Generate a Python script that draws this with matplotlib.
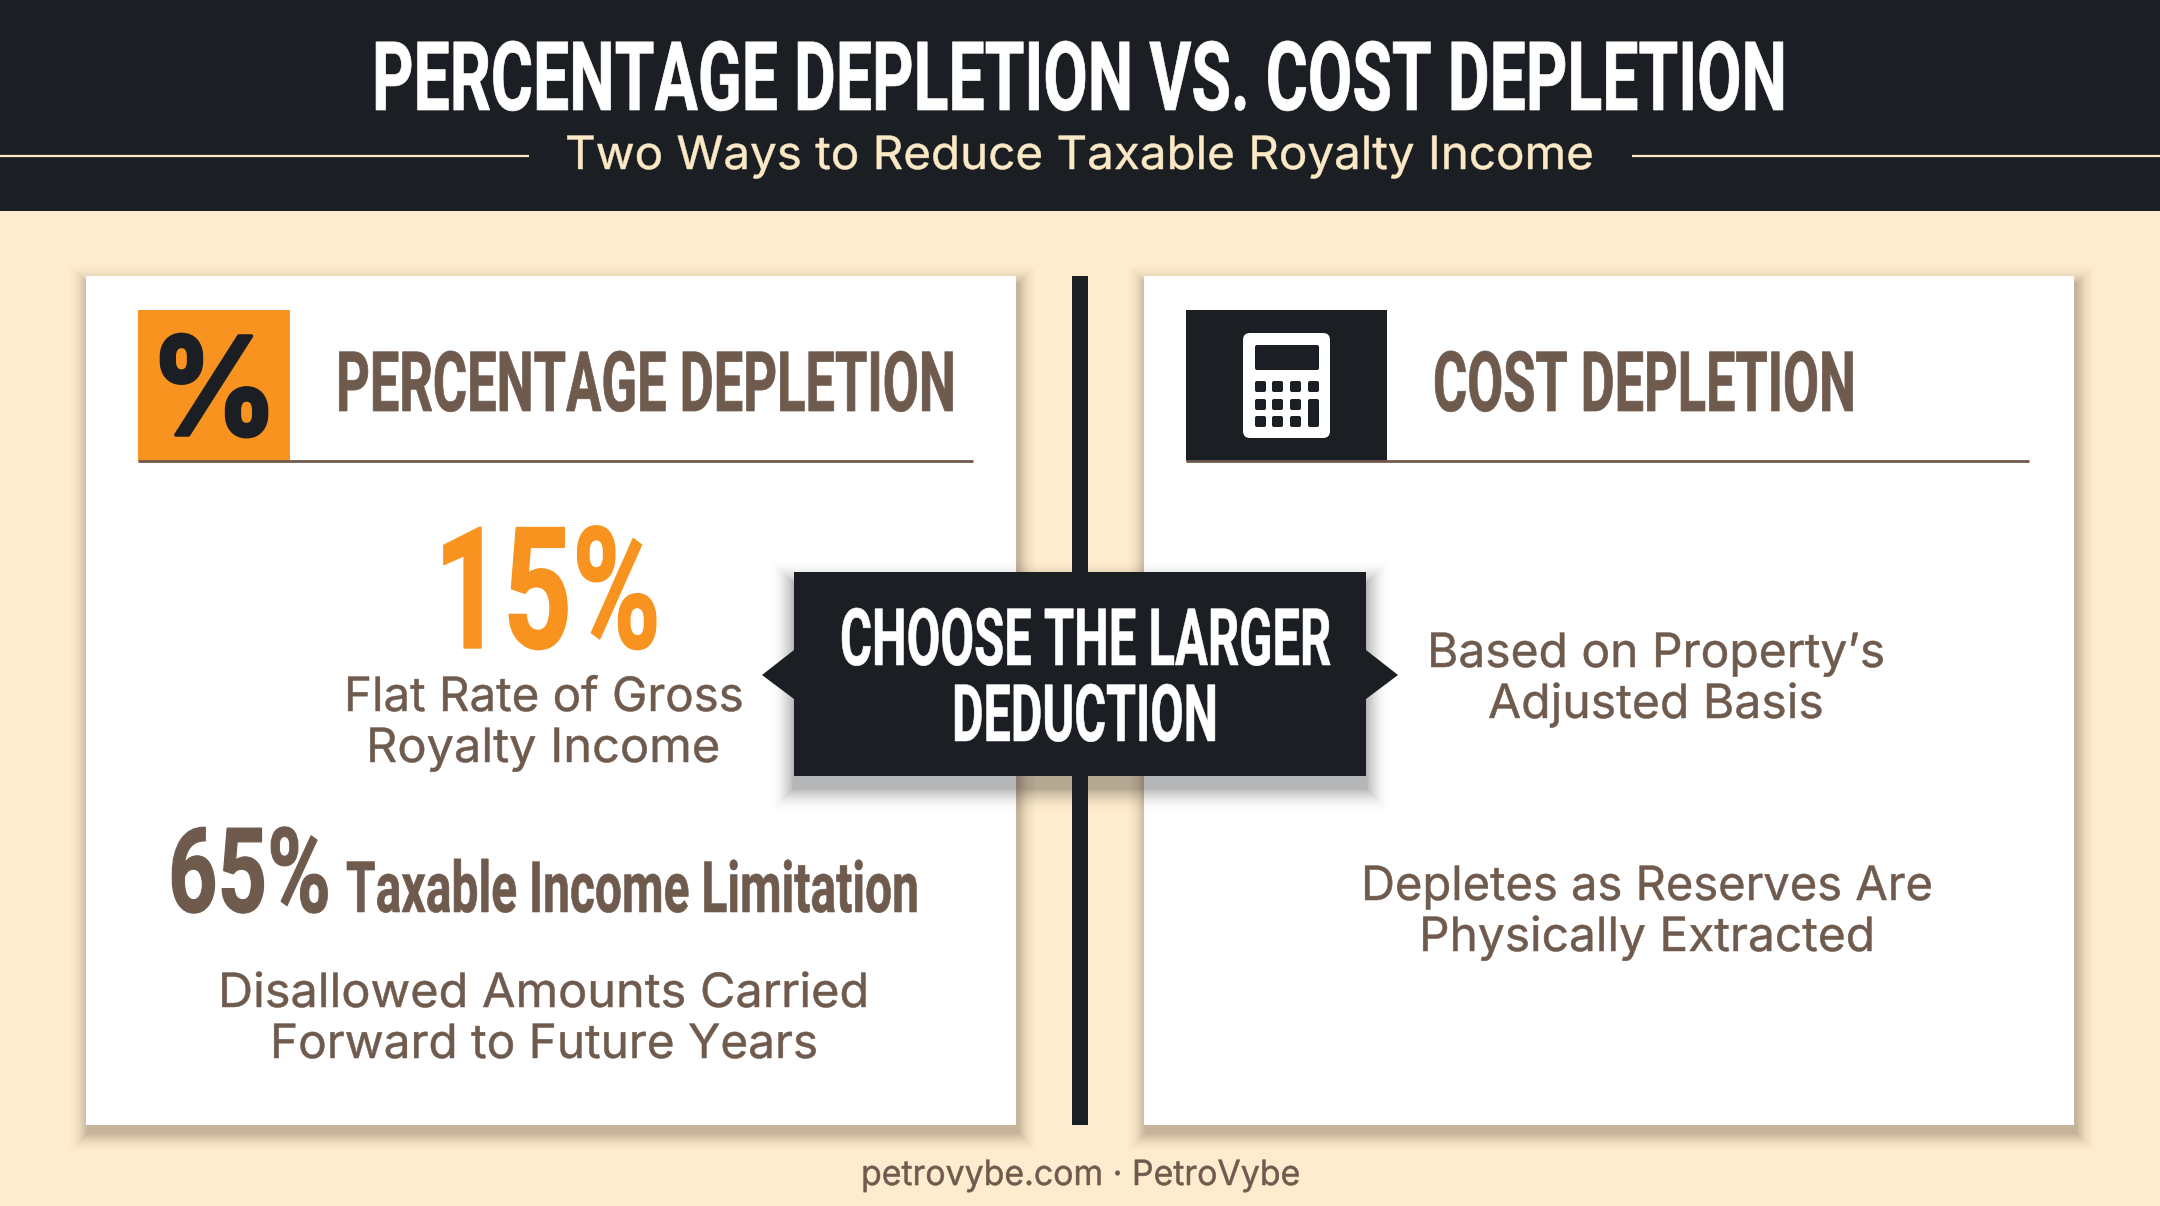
import matplotlib
matplotlib.use("Agg")
import matplotlib.pyplot as plt
from matplotlib.patches import Rectangle, Polygon, FancyBboxPatch
from matplotlib.patheffects import AbstractPathEffect
from matplotlib.text import Text
from matplotlib.transforms import Affine2D, Bbox

TITLE = "PERCENTAGE DEPLETION VS. COST DEPLETION"
SUBTITLE = "Two Ways to Reduce Taxable Royalty Income"
LEFT_HEAD = "PERCENTAGE DEPLETION"
RIGHT_HEAD = "COST DEPLETION"
BIG_RATE = "15%"
RATE_LINES = ["Flat Rate of Gross", "Royalty Income"]
LIMIT_RATE = "65%"
LIMIT_TEXT = "Taxable Income Limitation"
CARRY_LINES = ["Disallowed Amounts Carried", "Forward to Future Years"]
BASIS_LINES = ["Based on Property\u2019s", "Adjusted Basis"]
EXTRACT_LINES = ["Depletes as Reserves Are", "Physically Extracted"]
CENTER_LINES = ["CHOOSE THE LARGER", "DEDUCTION"]
FOOTER = "petrovybe.com \u00b7 PetroVybe"

DARK = "#1b1f24"; CREAM = "#fdeccd"; BROWN = "#6f5b4e"; ORANGE = "#f7931e"; SUB = "#fbe9c6"
COND = ["Roboto", "DejaVu Sans"]
BODY = ["Inter", "DejaVu Sans"]
BODY_STROKE = 0.35

fig = plt.figure(figsize=(21.6, 12.06), dpi=100, facecolor=CREAM)
ax = fig.add_axes([0, 0, 1, 1])
ax.set_xlim(0, 2160); ax.set_ylim(1206, 0); ax.axis("off")
rend = fig.canvas.get_renderer()


class Fit(AbstractPathEffect):
    """Scales glyphs horizontally about the text centre, with an optional stroke."""
    def __init__(self, cx, sx, stroke=0):
        super().__init__()
        self.cx, self.sx, self.stroke = cx, sx, stroke

    def draw_path(self, renderer, gc, tpath, affine, rgbFace=None):
        a = affine + Affine2D().translate(-self.cx, 0).scale(self.sx, 1).translate(self.cx, 0)
        g = renderer.new_gc()
        g.copy_properties(gc)
        if self.stroke:
            g.set_linewidth(self.stroke)
            g.set_foreground(rgbFace)
        renderer.draw_path(g, tpath, a, rgbFace)
        g.restore()


class FitText(Text):
    """Text fitted to a span [x0, x1]; reports the extent it really draws."""
    sx = 1.0

    def get_window_extent(self, renderer=None, dpi=None):
        bb = super().get_window_extent(renderer, dpi)
        c = ax.transData.transform((self.get_position()[0], 0))[0]
        return Bbox.from_extents(c + (bb.x0 - c) * self.sx, bb.y0, c + (bb.x1 - c) * self.sx, bb.y1)


def T(s, x0, x1, base, size, color, family=BODY, weight="normal", stroke=BODY_STROKE, z=12):
    cx = (x0 + x1) / 2
    t = FitText(cx, base, s, color=color, fontfamily=family, fontweight=weight, fontsize=size,
                ha="center", va="baseline", zorder=z)
    ax.add_artist(t)
    w = Text.get_window_extent(t, rend).width
    t.sx = (x1 - x0) / w
    t.set_path_effects([Fit(cx, t.sx, stroke)])
    return t


def rect(x, y, w, h, c, z=1, **k):
    ax.add_patch(Rectangle((x, y), w, h, facecolor=c, edgecolor="none", zorder=z, **k))


def rrect(x, y, w, h, r, c, z):
    ax.add_patch(FancyBboxPatch((x, y), w, h, boxstyle=f"round,pad=0,rounding_size={r}",
                                facecolor=c, edgecolor="none", zorder=z))


def shadow(x, y, w, h, z, dx=2, dy=8, spread=24, col="#4a3a2a", a=0.04):
    # layers fade quadratically towards the outside for a soft edge
    for i in range(spread, 0, -1):
        f = 1 - i / (spread + 1)
        rect(x - i + dx, y - i + dy, w + 2 * i, h + 2 * i, col, z, alpha=a * f * f)


# header
rect(0, 0, 2160, 211, DARK, 2)
ax.plot([0, 529], [156, 156], color=SUB, lw=1.6, zorder=3, solid_capstyle="butt")
ax.plot([1632, 2160], [156, 156], color=SUB, lw=1.6, zorder=3, solid_capstyle="butt")
T(TITLE, 372, 1788, 110, 69, "white", COND, "bold", 0.5)
T(SUBTITLE, 565, 1594, 169, 33, SUB)

# cards
for x in (86, 1144):
    shadow(x, 276, 930, 849, 3)
    rect(x, 276, 930, 849, "white", 4)
rect(1072, 276, 16, 849, DARK, 5)

# percentage icon
rect(138, 310, 152, 151, ORANGE, 6)
T("%", 150, 278, 435, 98, DARK, BODY, "bold", 2.5)
# calculator icon
rect(1186, 310, 201, 151, DARK, 6)
rrect(1243, 333, 87, 105, 7, "white", 7)
rrect(1255, 345, 64, 25, 2, DARK, 8)
for ry in (381, 399, 416):
    for cx_ in (1255, 1272, 1290, 1308):
        if cx_ == 1308 and ry != 381:
            continue
        rrect(cx_, ry, 11, 11, 2, DARK, 8)
rrect(1308, 399, 11, 28, 2, DARK, 8)

ax.plot([138, 973], [461, 461], color=BROWN, lw=2, zorder=6, solid_capstyle="butt")
ax.plot([1186, 2029], [461, 461], color=BROWN, lw=2, zorder=6, solid_capstyle="butt")
T(LEFT_HEAD, 336, 956, 411, 60, BROWN, COND, "bold", 0.5)
T(RIGHT_HEAD, 1433, 1856, 411, 60, BROWN, COND, "bold", 0.5)

# left content
T(BIG_RATE, 434, 661, 648, 122, ORANGE, COND, "bold", 1.0)
T(RATE_LINES[0], 344, 744, 711, 34, BROWN)
T(RATE_LINES[1], 366, 720, 762, 34, BROWN)
T(LIMIT_RATE, 168, 331, 912, 85, BROWN, COND, "bold", 0.8)
T(LIMIT_TEXT, 346, 919, 912, 51, BROWN, COND, "bold", 0.4)
T(CARRY_LINES[0], 218, 869, 1007, 34, BROWN)
T(CARRY_LINES[1], 270, 818, 1058, 34, BROWN)

# right content
T(BASIS_LINES[0], 1427, 1885, 667, 34, BROWN)
T(BASIS_LINES[1], 1488, 1824, 718, 34, BROWN)
T(EXTRACT_LINES[0], 1361, 1933, 900, 34, BROWN)
T(EXTRACT_LINES[1], 1419, 1875, 951, 34, BROWN)

# centre callout
shadow(794, 572, 572, 204, 8, dx=0, dy=12, spread=30, col="#1b1f24", a=0.035)
rect(794, 572, 572, 204, DARK, 9)
ax.add_patch(Polygon([(794, 650), (762, 675), (794, 699)], facecolor=DARK, edgecolor="none", zorder=9))
ax.add_patch(Polygon([(1366, 650), (1398, 675), (1366, 699)], facecolor=DARK, edgecolor="none", zorder=9))
T(CENTER_LINES[0], 840, 1331, 665, 57, "white", COND, "bold", 0.4)
T(CENTER_LINES[1], 952, 1218, 741, 57, "white", COND, "bold", 0.4)

T(FOOTER, 861, 1300, 1185, 25, BROWN, z=3)

fig.savefig("out.png", dpi=100, facecolor=CREAM)
